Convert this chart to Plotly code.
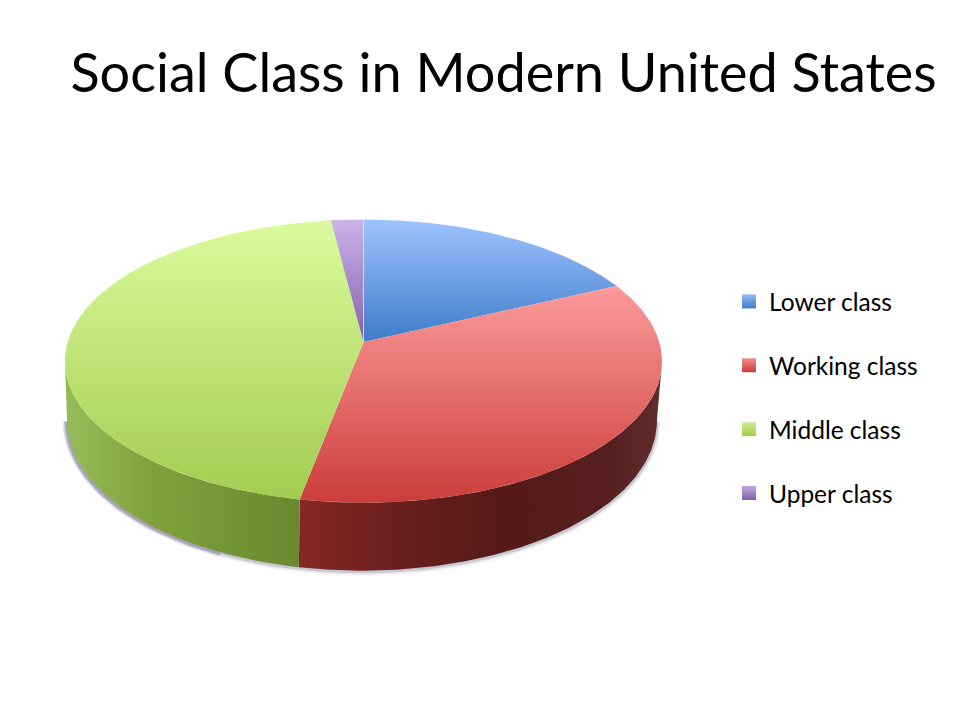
import numpy as np
import plotly.graph_objects as go

TITLE = "Social Class in Modern United States"
categories = ["Lower class", "Working class", "Middle class", "Upper class"]
values = [18, 35, 45, 2]

top_colors = [
    [[0, "#3f7cc9"], [1, "#9dc3ff"]],
    [[0, "#cc3e3b"], [1, "#fb9b9a"]],
    [[0, "#a3cb4f"], [1, "#dafb9d"]],
    [[0, "#8460ad"], [1, "#cbb3ea"]],
]
wall_colors = [
    None,
    [[0, "#862726"], [0.28, "#6a1f1d"], [0.55, "#551a18"], [0.85, "#561f1f"], [1, "#622d2d"]],
    [[0, "#96bd5a"], [0.35, "#80a23d"], [1, "#69892f"]],
    None,
]
swatch_colors = ["#94baf5", "#f08e8d", "#cfee92", "#c0a6e0"]
swatch_lows = ["#3f7cc9", "#cc3e3b", "#a3cb4f", "#8460ad"]

# projection of the pie disc on the slide
CX, CY, RX, RY, K = 363.5, 342.0, 295.8, 139.0, 0.1348
RIGHT_T = np.degrees(np.arccos(-K))
LEFT_T = 360 - RIGHT_T


def rim(t_deg, drop=False):
    t = np.radians(t_deg)
    u, v = np.sin(t), np.cos(t)
    w = 1 + K * v
    x = CX + RX * u / w
    y = CY - RY * v / w
    if drop:
        x = CX - 1.5 + (x - CX) * 0.988
        y = y + 58 - 10 * v
    return x, y


fig = go.Figure()

# soft shadow following the lower rim, heavier towards the left
sweep = np.linspace(RIGHT_T, LEFT_T, 160)
sx, sy = rim(sweep, drop=True)
for width, alpha in [(9, 0.05), (6, 0.09), (3, 0.18)]:
    fig.add_trace(go.Scatter(x=sx, y=sy + 1, mode="lines", showlegend=False, hoverinfo="skip",
                             line=dict(color=f"rgba(70,70,95,{alpha})", width=width)))
left = np.linspace(205, LEFT_T, 70)
lx, ly = rim(left, drop=True)
for width, alpha in [(7, 0.10), (4, 0.22)]:
    fig.add_trace(go.Scatter(x=lx - 1, y=ly + 1, mode="lines", showlegend=False, hoverinfo="skip",
                             line=dict(color=f"rgba(85,80,125,{alpha})", width=width)))

edges = np.cumsum([0] + values) / sum(values) * 360

# outer walls
for i, name in enumerate(categories):
    a, b = max(edges[i], RIGHT_T), min(edges[i + 1], LEFT_T)
    if b <= a or wall_colors[i] is None:
        continue
    t = np.linspace(a, b, 120)
    x1, y1 = rim(t)
    x2, y2 = rim(t[::-1], drop=True)
    fig.add_trace(go.Scatter(
        x=np.r_[x1, x2], y=np.r_[y1, y2], mode="lines", fill="toself", showlegend=False,
        hoverinfo="skip", line=dict(width=0),
        fillgradient=dict(type="horizontal", colorscale=wall_colors[i])))

# top faces
for i, name in enumerate(categories):
    t = np.linspace(edges[i], edges[i + 1], 160)
    x, y = rim(t)
    fig.add_trace(go.Scatter(
        x=np.r_[CX, x, CX], y=np.r_[CY, y, CY], mode="lines", fill="toself", showlegend=False,
        name=name, hoverinfo="skip", line=dict(width=0),
        fillgradient=dict(type="vertical", colorscale=top_colors[i])))

# pale seam where the first slice starts
x0, y0 = rim(np.array([edges[0]]))
fig.add_trace(go.Scatter(x=[CX, x0[0]], y=[CY, y0[0]], mode="lines", showlegend=False,
                         hoverinfo="skip", line=dict(color="rgba(225,232,250,0.75)", width=1)))

# legend entries
for i, name in enumerate(categories):
    fig.add_trace(go.Scatter(
        x=[None], y=[None], mode="markers", name=name, legendgroup=name,
        marker=dict(symbol="square", size=14, color=swatch_colors[i], line=dict(width=0),
                    gradient=dict(type="vertical", color=swatch_lows[i]))))

fig.update_layout(
    width=960, height=720, margin=dict(l=0, r=0, t=0, b=0),
    paper_bgcolor="white", plot_bgcolor="white",
    xaxis=dict(range=[0, 960], visible=False, fixedrange=True),
    yaxis=dict(range=[720, 0], visible=False, fixedrange=True),
    title=dict(text=TITLE, x=0.5245, xanchor="center", y=1 - 73 / 720, yanchor="middle",
               font=dict(family="Lato", size=54, color="black")),
    font=dict(family="Lato", color="black"),
    legend=dict(x=729 / 960, xanchor="left", y=1 - 279 / 720, yanchor="top",
                font=dict(size=24.5, family="Lato", color="black"),
                tracegroupgap=29, traceorder="grouped", itemsizing="trace",
                bgcolor="rgba(0,0,0,0)", borderwidth=0),
)

fig.write_html("out.html", config={"displayModeBar": False},
               post_script="document.body.style.margin='0';")
